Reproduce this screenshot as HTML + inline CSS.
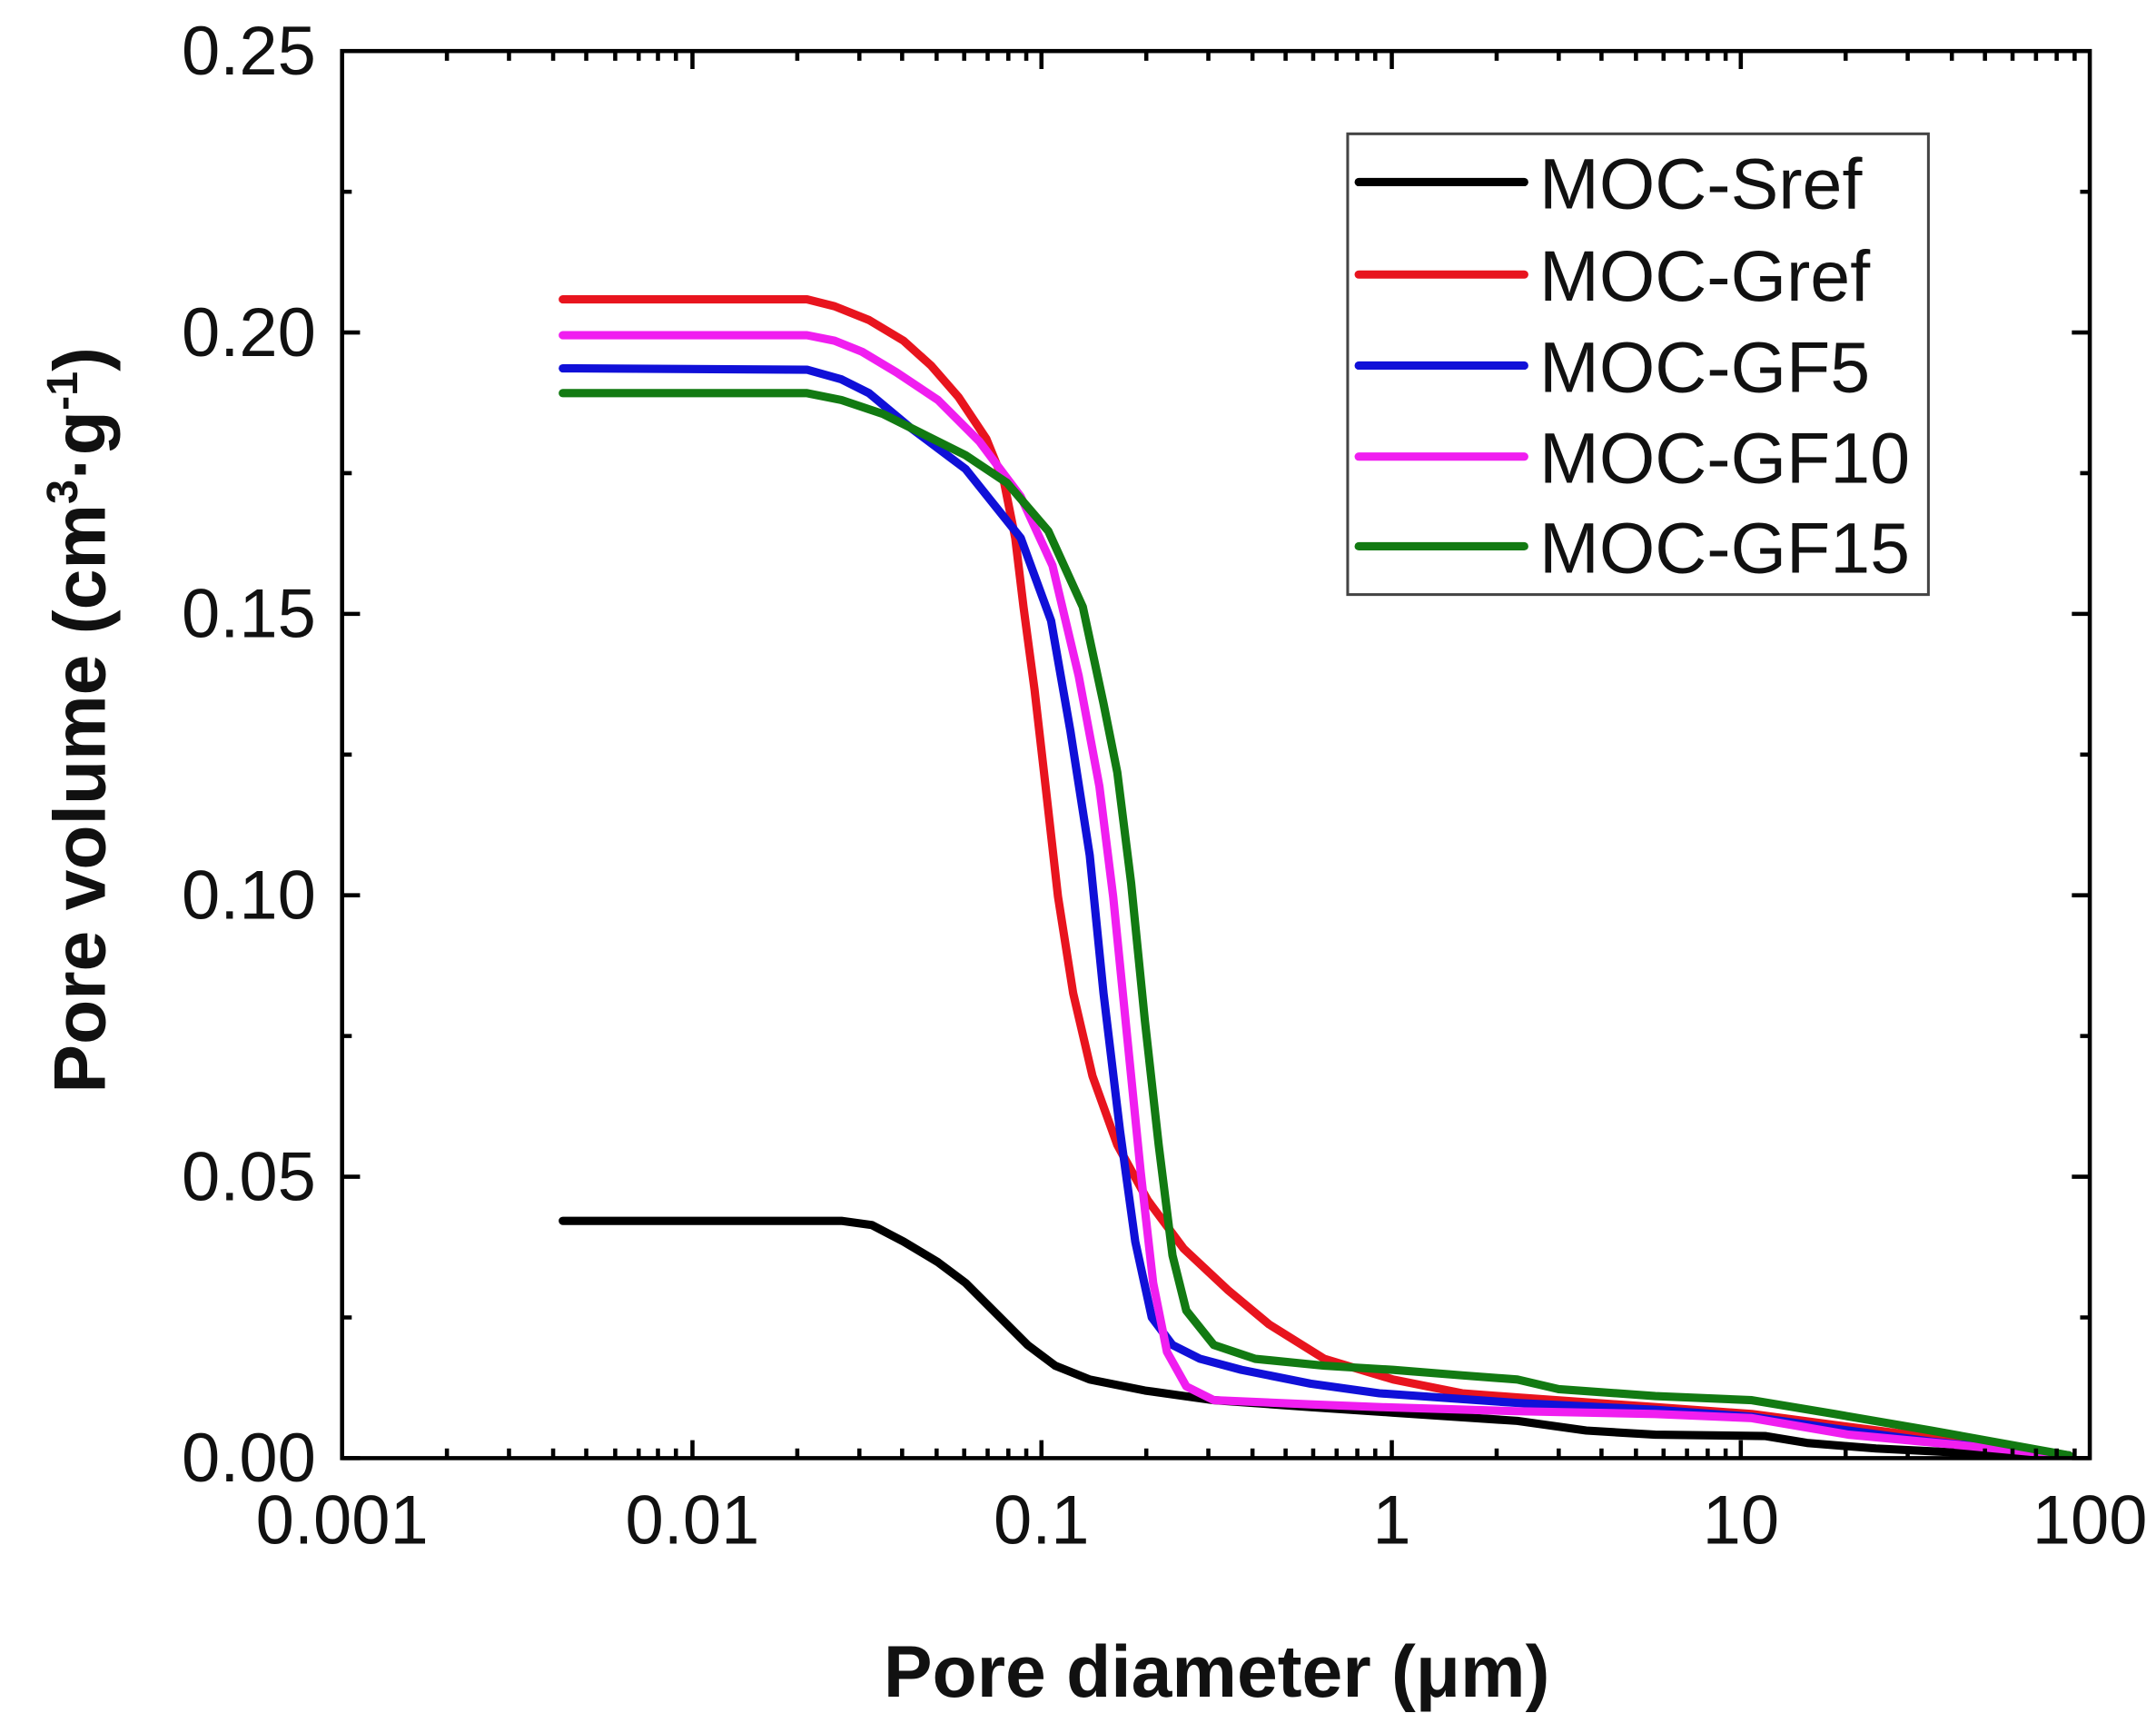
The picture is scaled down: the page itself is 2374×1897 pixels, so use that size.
<!DOCTYPE html>
<html><head><meta charset="utf-8"><style>html,body{margin:0;padding:0;background:#fff}svg{display:block}</style></head>
<body>
<svg width="2374" height="1897" viewBox="0 0 1563 1249" preserveAspectRatio="none" xmlns="http://www.w3.org/2000/svg" font-family="Liberation Sans, Arial, sans-serif">
<rect width="1563" height="1249" fill="#fff"/>
<g fill="none" stroke-width="6" stroke-linejoin="round" stroke-linecap="round">
<polyline stroke="#000" points="408,885 610,885 632,888 655,900 680,915 700,930 720,950 745,975 765,990 790,1000 830,1008 880,1015 950,1020 1010,1024 1100,1030 1150,1037 1200,1040 1280,1041 1310,1046 1360,1050 1420,1053 1500,1055"/>
<polyline stroke="#e8141e" points="408,217 585,217 605,222 630,232 655,247 675,265 695,288 715,318 728,350 736,390 742,440 750,500 758,570 767,650 778,720 792,780 810,830 832,870 858,905 890,935 920,960 960,985 1010,1000 1060,1010 1100,1013 1200,1020 1270,1025 1330,1033 1400,1042 1500,1055"/>
<polyline stroke="#1010d8" points="408,267 585,268 610,275 630,285 660,310 700,340 740,390 762,450 776,530 790,620 800,720 812,820 823,900 835,955 850,975 870,985 900,993 950,1003 1000,1010 1100,1017 1200,1022 1270,1027 1340,1037 1400,1045 1500,1055"/>
<polyline stroke="#f01ef0" points="408,243 585,243 605,247 625,255 650,270 680,290 710,320 740,360 763,410 782,490 797,570 807,650 817,750 827,850 836,930 846,980 860,1005 880,1015 950,1018 1000,1020 1100,1023 1200,1025 1270,1028 1340,1040 1500,1055"/>
<polyline stroke="#127a12" points="408,285 585,285 610,290 640,300 670,315 700,330 730,350 760,385 785,440 800,510 810,560 820,640 830,740 840,830 850,910 860,950 880,975 910,985 960,990 1010,993 1060,997 1100,1000 1130,1007 1200,1012 1270,1015 1330,1025 1400,1037 1500,1055"/>
</g>
<g stroke="#000" stroke-width="3" fill="none">
<rect x="248" y="37" width="1267" height="1020"/>
<path d="M248,1057h13M248,853h13M248,649h13M248,445h13M248,241h13M1515,1057h-13M1515,853h-13M1515,649h-13M1515,445h-13M1515,241h-13M248,955h7M248,751h7M248,547h7M248,343h7M248,139h7M1515,955h-7M1515,751h-7M1515,547h-7M1515,343h-7M1515,139h-7"/>
<path d="M502,1057v-13M755,1057v-13M1009,1057v-13M1262,1057v-13M502,37v13M755,37v13M1009,37v13M1262,37v13"/>
<path d="M324,1057v-7M369,1057v-7M401,1057v-7M425,1057v-7M446,1057v-7M463,1057v-7M477,1057v-7M490,1057v-7
M578,1057v-7M623,1057v-7M654,1057v-7M679,1057v-7M699,1057v-7M716,1057v-7M731,1057v-7M744,1057v-7
M831,1057v-7M876,1057v-7M908,1057v-7M932,1057v-7M952,1057v-7M969,1057v-7M984,1057v-7M997,1057v-7
M1085,1057v-7M1130,1057v-7M1161,1057v-7M1186,1057v-7M1206,1057v-7M1223,1057v-7M1238,1057v-7M1251,1057v-7
M1338,1057v-7M1383,1057v-7M1415,1057v-7M1439,1057v-7M1459,1057v-7M1476,1057v-7M1491,1057v-7M1504,1057v-7
M324,37v7M369,37v7M401,37v7M425,37v7M446,37v7M463,37v7M477,37v7M490,37v7
M578,37v7M623,37v7M654,37v7M679,37v7M699,37v7M716,37v7M731,37v7M744,37v7
M831,37v7M876,37v7M908,37v7M932,37v7M952,37v7M969,37v7M984,37v7M997,37v7
M1085,37v7M1130,37v7M1161,37v7M1186,37v7M1206,37v7M1223,37v7M1238,37v7M1251,37v7
M1338,37v7M1383,37v7M1415,37v7M1439,37v7M1459,37v7M1476,37v7M1491,37v7M1504,37v7"/>
</g>
<g font-size="50" fill="#111" text-anchor="end">
<text x="229" y="1074">0.00</text><text x="229" y="870">0.05</text><text x="229" y="666">0.10</text><text x="229" y="462">0.15</text><text x="229" y="258">0.20</text><text x="229" y="54">0.25</text>
</g>
<g font-size="50" fill="#111" text-anchor="middle">
<text x="248" y="1119">0.001</text><text x="502" y="1119">0.01</text><text x="755" y="1119">0.1</text><text x="1009" y="1119">1</text><text x="1262" y="1119">10</text><text x="1515" y="1119">100</text>
</g>
<text x="882" y="1230" font-size="53" font-weight="bold" text-anchor="middle" fill="#111">Pore diameter (μm)</text>
<text transform="translate(76,522) rotate(-90)" font-size="53" font-weight="bold" text-anchor="middle" fill="#111">Pore volume (cm<tspan font-size="32" dy="-20">3</tspan><tspan dy="20">·g</tspan><tspan font-size="32" dy="-20">-1</tspan><tspan dy="20">)</tspan></text>
<rect x="977" y="97" width="421" height="334" fill="#fff" stroke="#444" stroke-width="2"/>
<g stroke-width="6" stroke-linecap="round">
<line x1="985" y1="132" x2="1105" y2="132" stroke="#000"/>
<line x1="985" y1="199" x2="1105" y2="199" stroke="#e8141e"/>
<line x1="985" y1="265" x2="1105" y2="265" stroke="#1010d8"/>
<line x1="985" y1="331" x2="1105" y2="331" stroke="#f01ef0"/>
<line x1="985" y1="396" x2="1105" y2="396" stroke="#127a12"/>
</g>
<g font-size="52" fill="#111">
<text x="1116" y="151">MOC-Sref</text>
<text x="1116" y="218">MOC-Gref</text>
<text x="1116" y="284">MOC-GF5</text>
<text x="1116" y="350">MOC-GF10</text>
<text x="1116" y="415">MOC-GF15</text>
</g>
</svg>
</body></html>
